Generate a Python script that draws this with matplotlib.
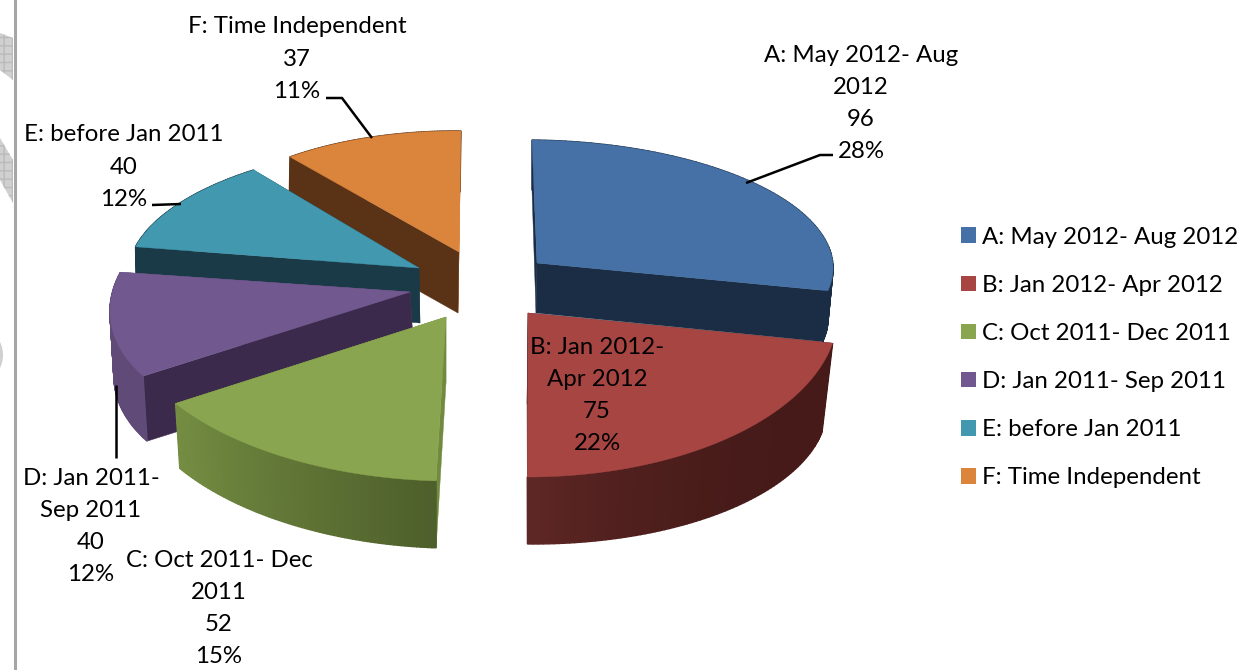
import numpy as np
import matplotlib
matplotlib.use('Agg')
import matplotlib.pyplot as plt
from matplotlib.patches import Patch

plt.rcParams['font.family'] = ['Lato', 'DejaVu Sans']

# datos del grafico
categories = ['A: May 2012- Aug 2012', 'B: Jan 2012- Apr 2012', 'C: Oct 2011- Dec 2011',
              'D: Jan 2011- Sep 2011', 'E: before Jan 2011', 'F: Time Independent']
wrapped = ['A: May 2012- Aug\n2012', 'B: Jan 2012-\nApr 2012', 'C: Oct 2011- Dec\n2011',
           'D: Jan 2011-\nSep 2011', 'E: before Jan 2011', 'F: Time Independent']
counts = [96, 75, 52, 40, 40, 37]

# colores: cara superior, cortes y borde (inicio y fin)
top_colors = ['#4571a6', '#a74543', '#89a54f', '#71598f', '#4198af', '#da843c']
start_face = ['#1b2d45', '#451b19', '#708a40', '#3b2a4b', '#1b3a47', '#5a3317']
end_face = ['#1b2d45', '#451b19', '#708a40', '#5f4a78', '#1b3a47', '#cf7a35']
rim_from = ['#1b2d45', '#451a18', '#4e5f2b', '#5f4a78', '#1b3a47', '#5a3317']
rim_to = ['#1b2d45', '#5e2725', '#748d42', '#5f4a78', '#1b3a47', '#5a3317']
rim_power = [1, 3, 1, 1, 1, 1]

# perspectiva de cada porcion (pixeles): centro, eje u, eje v, y lo mismo para la base
apex = [(537, 263), (528, 313), (446, 317), (410, 292), (419, 268), (459, 252)]
axis_u = [(296, 3), (310, -3), (323, 6), (298, -2), (290, 3), (270, 2)]
axis_v = [(5, 123), (5, 164), (-4, 164), (-35, 148), (-23, 124), (-2, 121)]
apex_low = [(536, 313), (527, 404), (446, 383), (414, 357), (420, 323), (458, 313)]
axis_u_low = [(292, 4), (300, 0), (318, 8), (298, -2), (290, 3), (270, 2)]
axis_v_low = [(4, 123), (6, 140), (-4, 165), (-35, 148), (-23, 124), (-2, 121)]
draw_order = [0, 5, 4, 3, 2, 1]

# posicion de las etiquetas
label_pos = [(861, 103.5), (597, 395.5), (219, 608.5), (91, 526.5), (124, 167), (297, 59)]
leaders = [[(746, 183), (820, 155), (833, 155)], [(372, 138), (342, 98), (326, 98)],
           [(181, 204), (152, 205)], [(116, 385), (116, 458)]]

total = sum(counts)
edges = np.cumsum([0] + counts) / total * 2 * np.pi


def arc(center, u, v, t):
    # punto de la elipse para el angulo t (0 arriba, sentido horario)
    x = center[0] + np.sin(t) * u[0] - np.cos(t) * v[0]
    y = center[1] + np.sin(t) * u[1] - np.cos(t) * v[1]
    return np.column_stack([x, y])


def mix(c1, c2, f):
    a = np.array(matplotlib.colors.to_rgb(c1))
    b = np.array(matplotlib.colors.to_rgb(c2))
    return a + (b - a) * f


fig = plt.figure(figsize=(12.55, 6.7), dpi=100)
ax = fig.add_axes([0, 0, 1, 1])
ax.set_xlim(0, 1255)
ax.set_ylim(670, 0)
ax.axis('off')

# decoracion del margen izquierdo
ax.axvline(15, color='#a6a6a6', lw=2.2)
for xs, ys in [([0, 13, 13, 0], [33, 38, 80, 70]), ([0, 13, 13, 0], [138, 160, 203, 180])]:
    ax.fill(xs, ys, facecolor='#d0d0d0', edgecolor='#bbbbbb', hatch='++', lw=0)
t = np.linspace(-1.2, 1.2, 40)
ax.fill(np.cos(t) * 30 - 27, 355 + np.sin(t) * 30, facecolor='#d0d0d0', edgecolor='none')

for i in draw_order:
    t0, t1 = edges[i], edges[i + 1]
    ts = np.linspace(t0, t1, 80)
    hi = arc(apex[i], axis_u[i], axis_v[i], ts)
    lo = arc(apex_low[i], axis_u_low[i], axis_v_low[i], ts)
    # caras del corte
    ax.fill([apex[i][0], hi[-1, 0], lo[-1, 0], apex_low[i][0]],
            [apex[i][1], hi[-1, 1], lo[-1, 1], apex_low[i][1]], color=end_face[i], lw=0.3)
    ax.fill([apex[i][0], hi[0, 0], lo[0, 0], apex_low[i][0]],
            [apex[i][1], hi[0, 1], lo[0, 1], apex_low[i][1]], color=start_face[i], lw=0.3)
    # borde exterior con degradado
    for k in range(len(ts) - 1):
        col = mix(rim_from[i], rim_to[i], (k / (len(ts) - 2)) ** rim_power[i])
        ax.fill([hi[k, 0], hi[k + 1, 0], lo[k + 1, 0], lo[k, 0]],
                [hi[k, 1], hi[k + 1, 1], lo[k + 1, 1], lo[k, 1]], color=col, lw=1)
    # cara superior
    ax.fill(np.r_[apex[i][0], hi[:, 0]], np.r_[apex[i][1], hi[:, 1]], color=top_colors[i], lw=0.3)

for line in leaders:
    ax.plot(*zip(*line), color='black', lw=1.8, solid_capstyle='butt')

fs = 17.3
for i in range(len(counts)):
    pct = round(counts[i] / total * 100)
    ax.text(label_pos[i][0], label_pos[i][1], f'{wrapped[i]}\n{counts[i]}\n{pct}%',
            ha='center', va='center', fontsize=fs, color='black', linespacing=1.65)

handles = [Patch(facecolor=c, edgecolor='none') for c in top_colors]
ax.legend(handles, categories, loc='center left', bbox_to_anchor=(961, 357.5),
          bbox_transform=ax.transData, frameon=False, fontsize=fs, handlelength=0.62,
          handleheight=0.62, handletextpad=0.25, labelspacing=1.13, borderpad=0, borderaxespad=0)

fig.savefig('out.png', dpi=100)
